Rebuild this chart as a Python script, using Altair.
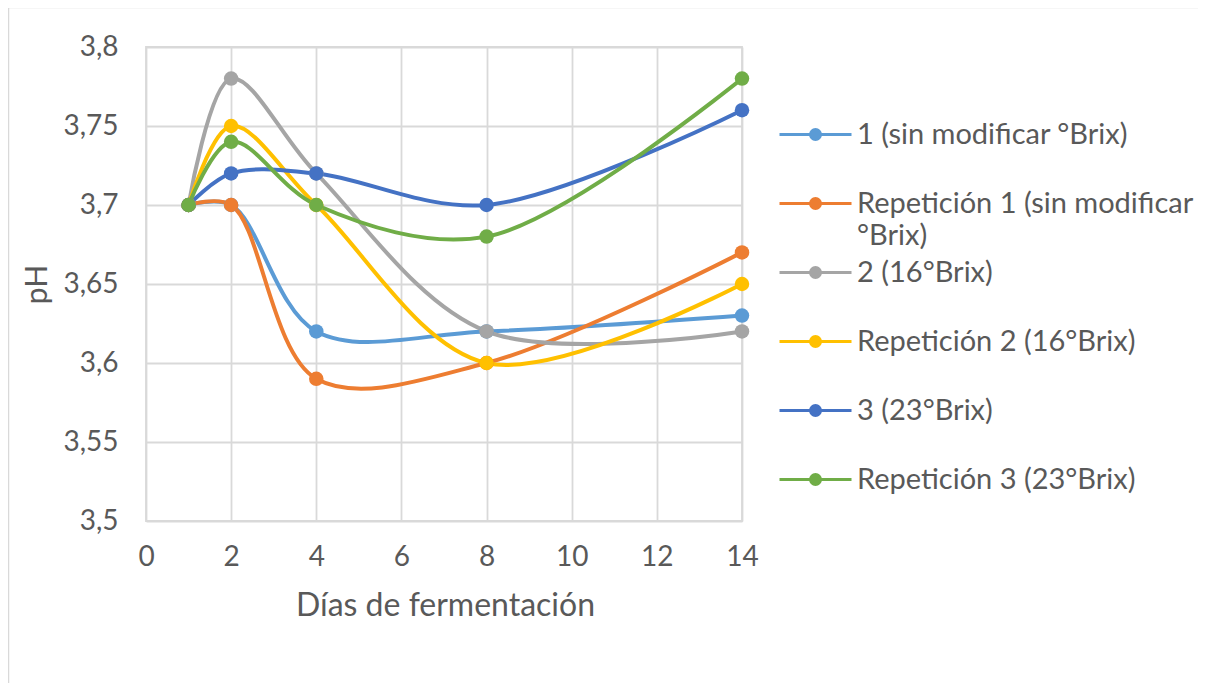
import altair as alt
import pandas as pd

# ---- data ----
days = [1, 2, 4, 8, 14]
series_names = [
    "1 (sin modificar °Brix)",
    "Repetición 1 (sin modificar °Brix)",
    "2 (16°Brix)",
    "Repetición 2 (16°Brix)",
    "3 (23°Brix)",
    "Repetición 3 (23°Brix)",
]
ph_1 = [3.70, 3.70, 3.62, 3.62, 3.63]
ph_rep1 = [3.70, 3.70, 3.59, 3.60, 3.67]
ph_2 = [3.70, 3.78, 3.72, 3.62, 3.62]
ph_rep2 = [3.70, 3.75, 3.70, 3.60, 3.65]
ph_3 = [3.70, 3.72, 3.72, 3.70, 3.76]
ph_rep3 = [3.70, 3.74, 3.70, 3.68, 3.78]
series_colors = ["#5B9BD5", "#ED7D31", "#A5A5A5", "#FFC000", "#4472C4", "#70AD47"]
x_ticks = [0, 2, 4, 6, 8, 10, 12, 14]
y_ticks = [3.5, 3.55, 3.6, 3.65, 3.7, 3.75, 3.8]

all_values = [ph_1, ph_rep1, ph_2, ph_rep2, ph_3, ph_rep3]
rows = []
for si, (name, vals) in enumerate(zip(series_names, all_values)):
    for d, v in zip(days, vals):
        rows.append({"serie": name, "orden": si, "dia": d, "ph": v})
df = pd.DataFrame(rows)

FONT = "Lato"
TXT = "#595959"
GRID = "#D9D9D9"

wrap_expr = (
    "datum.label == 'Repetición 1 (sin modificar °Brix)' ? "
    "['Repetición 1 (sin modificar', '°Brix)'] : datum.label"
)

legend_symbol = (
    "M-1.8,0H1.8"
    "M-0.05,0A0.05,0.05 0 1,1 0.05,0A0.05,0.05 0 1,1 -0.05,0"
    "M-0.12,0A0.12,0.12 0 1,1 0.12,0A0.12,0.12 0 1,1 -0.12,0"
    "M-0.19,0A0.19,0.19 0 1,1 0.19,0A0.19,0.19 0 1,1 -0.19,0"
    "M-0.25,0A0.25,0.25 0 1,1 0.25,0A0.25,0.25 0 1,1 -0.25,0"
)

color = alt.Color(
    "serie:N",
    scale=alt.Scale(domain=series_names, range=series_colors),
    sort=series_names,
    legend=alt.Legend(
        title=None,
        orient="none",
        legendX=648,
        legendY=66,
        symbolType=legend_symbol,
        symbolSize=1600,
        symbolStrokeWidth=3,
        labelOffset=20,
        labelFont=FONT,
        labelFontSize=29,
        labelColor=TXT,
        labelLimit=420,
        labelExpr=wrap_expr,
        gridAlign="all",
        rowPadding=0,
    ),
)

base = alt.Chart(df).encode(
    x=alt.X(
        "dia:Q",
        scale=alt.Scale(domain=[0, 14], nice=False, zero=False),
        axis=alt.Axis(
            values=x_ticks,
            title="Días de fermentación",
            grid=True,
            ticks=False,
            domain=False,
            labelFlush=False,
            labelPadding=22,
            titleX=299,
            titleY=84,
            titleBaseline="middle",
            titleFontSize=32,
        ),
    ),
    y=alt.Y(
        "ph:Q",
        scale=alt.Scale(domain=[3.5, 3.8], nice=False, zero=False),
        axis=alt.Axis(
            values=y_ticks,
            title="pH",
            grid=True,
            ticks=False,
            domain=False,
            labelFlush=False,
            labelPadding=28,
            labelExpr="replace(format(datum.value, '.2~f'), '.', ',')",
            titleX=-109,
            titleY=237,
            titleAlign="center",
            titleBaseline="middle",
            titleFontSize=30,
        ),
    ),
    color=color,
    order=alt.Order("orden:Q"),
)

lines = base.mark_line(interpolate="catmull-rom", strokeWidth=4)
points = base.mark_point(filled=True, size=210, opacity=1)

frame = alt.Chart(pd.DataFrame({"k": [0]})).mark_rect(
    filled=False, stroke=GRID, strokeWidth=2.5
).encode(
    x=alt.value(-138), x2=alt.value(1064), y=alt.value(-40), y2=alt.value(700)
)

chart = (
    alt.layer(frame, lines, points)
    .properties(
        width=596,
        height=474,
        autosize=alt.AutoSizeParams(type="none"),
        padding={"left": 138, "top": 39, "right": 456, "bottom": 162},
    )
    .configure(
        axis=alt.AxisConfig(
            labelFont=FONT,
            labelFontSize=28,
            labelColor=TXT,
            titleFont=FONT,
            titleFontSize=28,
            titleColor=TXT,
            titleFontWeight="normal",
            gridColor=GRID,
            gridWidth=1.8,
        ),
        view=alt.ViewConfig(stroke=GRID, strokeWidth=1.8),
        style={"guide-label": {"lineHeight": 32}},
    )
)

chart.save("out.html", embed_options={"renderer": "svg", "actions": False})
